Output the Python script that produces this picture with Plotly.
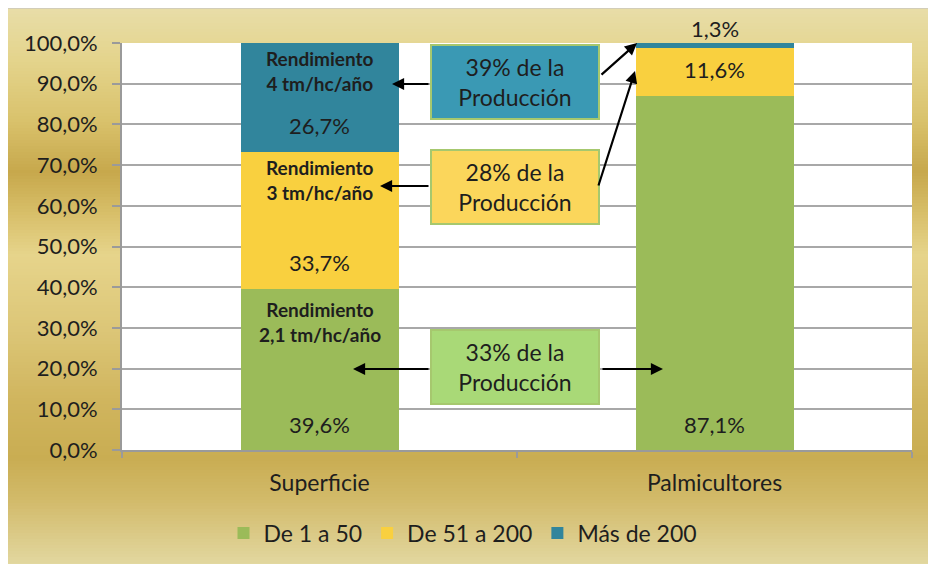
import plotly.graph_objects as go

# data
categories = ["Superficie", "Palmicultores"]
series_names = ["De 1 a 50", "De 51 a 200", "Más de 200"]
de_1_a_50 = [39.6, 87.1]
de_51_a_200 = [33.7, 11.6]
mas_de_200 = [26.7, 1.3]
y_ticks = [0, 10, 20, 30, 40, 50, 60, 70, 80, 90, 100]

rendimiento_labels = ["Rendimiento<br>2,1 tm/hc/año", "Rendimiento<br>3 tm/hc/año", "Rendimiento<br>4 tm/hc/año"]
produccion_labels = ["33% de la<br>Producción", "28% de la<br>Producción", "39% de la<br>Producción"]

series_values = [de_1_a_50, de_51_a_200, mas_de_200]
series_colors = ["#9BBB59", "#F9D03F", "#31859C"]
box_colors = ["#A9D977", "#FBD65B", "#3A99B4"]

FONT = "Lato"
TXT = "#1e1e1e"
W, H = 944, 564
L, R, T, B = 114, 40, 35, 122
OFF = 8  # page body margin


def dx(sx):
    # screen px -> x domain
    return (sx - OFF - L) / (W - L - R)


def dy(sy):
    # screen px -> y domain
    return (H - B - (sy - OFF)) / (H - T - B)


def fmt(v):
    return f"{v:.1f}".replace(".", ",") + "%"


fig = go.Figure()
for name, vals, color in zip(series_names, series_values, series_colors):
    fig.add_trace(go.Bar(
        x=categories, y=vals, name=name, width=0.4,
        marker=dict(color=color, line=dict(width=0)),
        hoverinfo="skip"
    ))

# gold gradient background (vertical bands, screen px)
stops = [(8, (232, 221, 168)), (60, (228, 212, 140)), (120, (217, 194, 108)),
         (172, (199, 168, 76)), (212, (215, 190, 104)), (255, (230, 212, 139)),
         (330, (220, 198, 119)), (400, (208, 181, 94)), (458, (201, 173, 82)),
         (500, (210, 186, 106)), (572, (228, 219, 166))]


def grad(py):
    for (y0, c0), (y1, c1) in zip(stops[:-1], stops[1:]):
        if y0 <= py <= y1:
            t = (py - y0) / (y1 - y0)
            return "rgb(%d,%d,%d)" % tuple(round(a + (b - a) * t) for a, b in zip(c0, c1))
    return "rgb(%d,%d,%d)" % stops[-1][1]


shapes = []
step = 3
for py in range(8, 572, step):
    shapes.append(dict(type="rect", xref="paper", yref="paper", layer="below",
                       x0=dx(OFF), x1=dx(OFF + W), y0=dy(py), y1=dy(min(py + step + 0.5, OFF + H)),
                       fillcolor=grad(py + step / 2), line=dict(width=0)))
shapes.append(dict(type="line", xref="paper", yref="paper", layer="below",
                   x0=dx(OFF), x1=dx(OFF + W), y0=dy(8.5), y1=dy(8.5),
                   line=dict(color="#D2CDB8", width=1.2)))
shapes.append(dict(type="rect", xref="paper", yref="paper", layer="below",
                   x0=0, x1=1, y0=0, y1=1, fillcolor="white", line=dict(width=0)))

annotations = []
# value labels
for j, cat in enumerate(categories):
    base = 0
    for vals in series_values:
        v = vals[j]
        if v < 3:
            annotations.append(dict(x=cat, y=100, xref="x", yref="y", text=fmt(v),
                                    showarrow=False, yanchor="bottom", yshift=-1,
                                    font=dict(size=22, color=TXT, family=FONT)))
        else:
            annotations.append(dict(x=cat, y=round(base, 6), xref="x", yref="y", text=fmt(v),
                                    showarrow=False, yanchor="middle", yshift=26,
                                    font=dict(size=22, color=TXT, family=FONT)))
        base += v

# rendimiento labels on the Superficie bar
top = 0
for vals, lab, sh in zip(series_values, rendimiento_labels, [-33, -28, -28]):
    top = round(top + vals[0], 6)
    annotations.append(dict(x=categories[0], y=top, xref="x", yref="y",
                            text="<b>" + lab + "</b>", showarrow=False,
                            yanchor="middle", yshift=sh,
                            font=dict(size=19, color=TXT, family=FONT)))

# production boxes (screen px centres)
box_centres = [(515, 367), (515, 186.5), (515, 82)]
for lab, col, (cx, cy) in zip(produccion_labels, box_colors, box_centres):
    annotations.append(dict(x=dx(cx), y=dy(cy), xref="x domain", yref="y domain",
                            xanchor="center", yanchor="middle",
                            text=lab, showarrow=False, bgcolor=col,
                            bordercolor="#A6C86E", borderwidth=2, borderpad=0,
                            width=166, height=72,
                            font=dict(size=23, color=TXT, family=FONT)))

# arrows (tail -> head, screen px)
arrows = [((430, 84), (392, 84)), ((430, 186), (380, 186)),
          ((600, 76), (637, 43)), ((598, 187), (635, 71)),
          ((430, 369), (353, 369)), ((601, 369), (663, 369))]
for (tx, ty), (hx, hy) in arrows:
    annotations.append(dict(x=dx(hx), y=dy(hy), ax=dx(tx), ay=dy(ty),
                            xref="x domain", yref="y domain",
                            axref="x domain", ayref="y domain",
                            text="", showarrow=True, arrowhead=2, arrowsize=1.1,
                            arrowwidth=2.2, arrowcolor="black", standoff=0))

fig.update_layout(
    barmode="stack",
    width=W, height=H,
    margin=dict(l=L, r=R, t=T, b=B, autoexpand=False),
    paper_bgcolor="#E0CF8C",
    plot_bgcolor="white",
    font=dict(family=FONT, color=TXT, size=22),
    shapes=shapes,
    annotations=annotations,
    showlegend=True,
    legend=dict(orientation="h", x=dx(463), xanchor="center", y=dy(533), yanchor="middle",
                font=dict(size=23, color=TXT, family=FONT), bgcolor="rgba(0,0,0,0)",
                traceorder="normal"),
    xaxis=dict(showgrid=False, showline=True, linecolor="#9A9A9A", linewidth=2,
               ticks="outside", tickson="boundaries", ticklen=6, tickcolor="#9A9A9A",
               tickwidth=2, ticklabelstandoff=11, tickfont=dict(size=23, color=TXT),
               range=[-0.5, 1.5], automargin=False),
    yaxis=dict(range=[0, 100], tickvals=y_ticks, ticktext=[fmt(v) for v in y_ticks],
               showgrid=True, gridcolor="#A8A8A8", gridwidth=1.8, zeroline=False,
               showline=True, linecolor="#9A9A9A", linewidth=2,
               ticks="outside", ticklen=8, tickcolor="#9A9A9A", tickwidth=2,
               ticklabelstandoff=10, tickfont=dict(size=22, color=TXT), automargin=False),
)

fig.write_html("out.html",
               post_script="document.body.style.margin='8px 0 0 8px';"
                           "document.body.style.width='" + str(W) + "px';")
